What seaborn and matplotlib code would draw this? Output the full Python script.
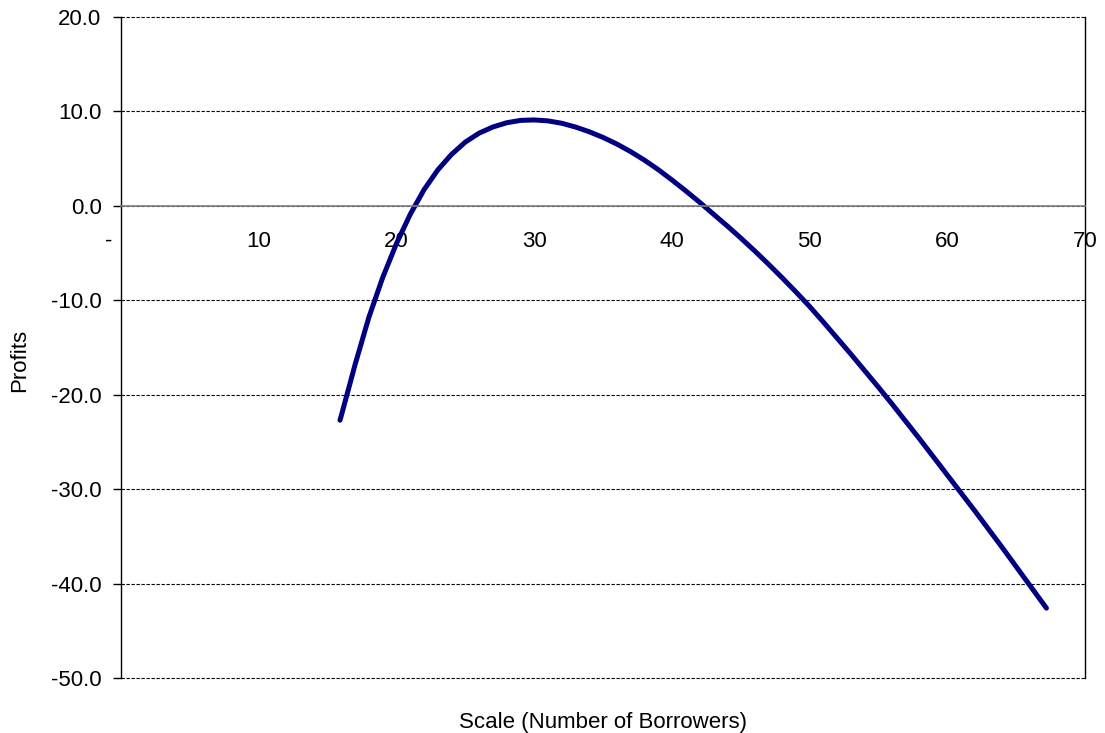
import matplotlib
matplotlib.use("Agg")
import matplotlib.pyplot as plt
import seaborn as sns
import pandas as pd

# profit curve
borrowers = [15.9, 16, 17, 18, 19, 20, 21, 22, 23, 24, 25, 26, 27, 28, 29, 30,
             31, 32, 33, 34, 35, 36, 37, 38, 39, 40, 41, 42, 43, 44, 45, 46, 47, 48, 49,
             50, 51, 52, 53, 54, 55, 56, 57, 58, 59, 60, 61, 62, 63, 64, 65, 66, 67.2]
profits = [-22.7, -22.2, -16.8, -11.8, -7.6, -4.0, -0.9, 1.7, 3.8, 5.45, 6.75, 7.7, 8.35,
           8.8, 9.05, 9.1, 9.0, 8.75, 8.35, 7.85, 7.25, 6.55, 5.75, 4.85, 3.85, 2.75,
           1.6, 0.4, -0.85, -2.1, -3.4, -4.75, -6.15, -7.6, -9.1, -10.65, -12.3, -14.0,
           -15.7, -17.45, -19.2, -21.0, -22.85, -24.7, -26.6, -28.5, -30.4, -32.3,
           -34.25, -36.2, -38.2, -40.2, -42.6]
x_ticks = [0, 10, 20, 30, 40, 50, 60, 70]
x_tick_labels = ["-    ", "10", "20", "30", "40", "50", "60", "70"]
y_ticks = [20, 10, 0, -10, -20, -30, -40, -50]
y_tick_labels = ["20.0", "10.0", "0.0", "-10.0", "-20.0", "-30.0", "-40.0", "-50.0"]

df = pd.DataFrame({"borrowers": borrowers, "profits": profits})

sns.set_theme(style="white")
plt.rcParams["font.family"] = ["Liberation Sans", "DejaVu Sans"]
plt.rcParams["text.color"] = "black"
plt.rcParams["axes.labelcolor"] = "black"
plt.rcParams["xtick.labelcolor"] = "black"
plt.rcParams["ytick.labelcolor"] = "black"

fig = plt.figure(figsize=(11.05, 7.33), dpi=100)
ax = fig.add_axes([0.1095, 0.075, 0.8724, 0.9018])

sns.lineplot(data=df, x="borrowers", y="profits", sort=False, estimator=None,
             color="#000080", linewidth=3.6, ax=ax, solid_capstyle="round",
             solid_joinstyle="round")

ax.set_xlim(0, 70)
ax.set_ylim(-50, 20)
ax.set_xticks(x_ticks)
ax.set_xticklabels(x_tick_labels)
ax.set_yticks(y_ticks)
ax.set_yticklabels(y_tick_labels)

ax.spines["top"].set_visible(False)
ax.spines["bottom"].set_position(("data", 0))
ax.spines["bottom"].set_color("#808080")
ax.spines["bottom"].set_linewidth(1.2)
ax.spines["left"].set_color("black")
ax.spines["right"].set_color("black")
ax.spines["left"].set_linewidth(1.0)
ax.spines["right"].set_linewidth(1.0)

ax.tick_params(axis="x", direction="in", length=5, width=1, color="#808080",
               pad=18, labelsize=16, labelcolor="black")
ax.tick_params(axis="y", direction="out", length=6, width=1, color="black",
               pad=8, labelsize=16, left=True, labelcolor="black")

ax.yaxis.grid(True, color="black", linestyle=(0, (3, 1.5)), linewidth=0.8)
for gl in ax.get_ygridlines():
    gl.set_clip_on(False)

ax.set_xlabel("Scale (Number of Borrowers)", fontsize=16, labelpad=0)
ax.xaxis.set_label_coords(0.5, -0.052)
ax.set_ylabel("Profits", fontsize=16)
ax.yaxis.set_label_coords(-0.094, 0.481)

fig.savefig("out.png", dpi=100)
